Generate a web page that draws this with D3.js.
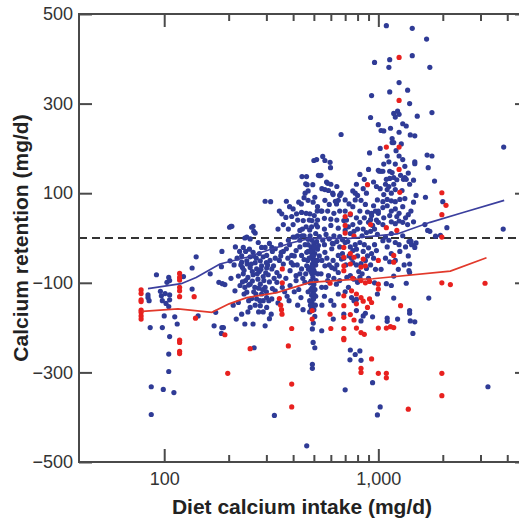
<!DOCTYPE html>
<html>
<head>
<meta charset="utf-8">
<script src="https://cdn.jsdelivr.net/npm/d3@7"></script>
<style>
  html, body { margin: 0; padding: 0; background: #fff; }
  svg { display: block; }
</style>
</head>
<body>
<svg id="chart" width="519" height="520"></svg>
<script>
// Diet calcium intake (mg/d) vs calcium retention (mg/d)
const xTickMajor = [100, 1000];
const xTickMajorLabels = ["100", "1,000"];
const xTickMinor = [200, 300, 400, 500, 600, 700, 800, 900, 2000, 3000, 4000];
const yTickValues = [500, 300, 100, -100, -300, -500];
const yTickLabels = ["500", "300", "100", "\u2212100", "\u2212300", "\u2212500"];

// Blue group: [intake, retention]
const bluePoints = [
  [84,-127],[84,-133],[85,-140],[86,-200],[87,-332],[87,-394],[92,-82],[96,-119],[97,-129],[98,-140],[98,-200],[99,-338],[100,-174],[101,-124],[102,-146],[103,-99],[105,-88],[105,-153],[106,-95],[106,-127],[106,-138],[106,-220],[105,-259],[105,-298],[111,-345],[112,-176],[115,-192],[123,-86],
  [135,-67],[135,-114],[141,-42],[144,-174],[164,-80],[171,-196],[174,-166],[180,-99],[185,-64],[186,-30],[186,-200],[187,-102],[192,-104],[185,-213],
  [202,24],[205,26],[207,26],[238,0],[243,2],[256,24],[260,26],[262,15],[266,11],[252,-2],[296,82],[314,81],
  [203,-51],[219,-45],[230,-54],[243,-51],[252,-42],[260,-32],[269,-45],[281,-51],[290,-42],[301,-39],[296,-21],[234,-21],[285,-21],[318,-21],
  [252,-66],[270,-69],[285,-62],[301,-67],[234,-80],[246,-88],[260,-82],[274,-92],[290,-86],[306,-82],
  [226,-106],[238,-110],[252,-103],[265,-110],[281,-103],[296,-110],[214,-118],[243,-121],[285,-125],[301,-133],[270,-136],[222,-144],[252,-155],[281,-151],[301,-155],
  [217,-181],[238,-192],[260,-192],[296,-196],[189,-200],[263,-245],[215,-20],[225,-30],[250,-25],[275,-10],[310,-12],[320,-30],[330,-45],[255,-58],[278,-75],[240,-95],[262,-120],[290,-140],[310,-98],[232,-66],[248,-140],[276,-165],[316,-170],[205,-90],[210,-150],[320,-113],
  [228,-60],[236,-72],[244,-58],[258,-75],[266,-55],[272,-80],[283,-70],[292,-95],[298,-78],[304,-60],[312,-50],[222,-85],[232,-98],[248,-105],[258,-96],[268,-125],[276,-112],[288,-115],[300,-120],[308,-140],[236,-125],[256,-135],[280,-140],[246,-165],[266,-150],[290,-165],[310,-180],[230,-40],[240,-30],[262,-40],[278,-35],[300,-55],[324,-62],[326,-90],[230,-170],[212,-60],
  [345,60],[354,54],[370,46],[394,48],[372,82],[438,57],[446,39],[479,54],[440,137],[462,137],[458,121],[465,119],[437,76],[450,90],[470,84],[415,54],[442,20],[430,17],[460,25],[420,5],[400,2],[380,-5],[350,-15],[360,-30],[410,2],[430,-5],[450,5],[470,-3],
  [340,20],[360,30],[380,20],[400,30],[420,40],[440,5],[460,55],[400,65],[425,80],[455,100],[470,105],[385,70],
  [330,-24],[352,-32],[372,-24],[394,-39],[413,-28],[438,-39],[463,-32],[318,-69],[336,-77],[360,-58],[387,-73],[413,-84],[438,-69],[463,-62],[336,-99],[387,-106],[413,-95],[454,-99],[435,-133],[383,-140],[330,-118],[318,-136],[345,-50],[370,-90],[400,-60],[425,-115],[450,-48],[340,-145],[365,-120],[420,-150],[470,-120],[445,-160],[327,-396],[463,-464],
  [345,-85],[356,-110],[378,-45],[392,-55],[405,-40],[418,-60],[430,-80],[444,-90],[458,-80],[468,-50],[405,-120],[375,-130],[350,-40],[385,-15],[430,-20],[455,-15],[470,-30],
  [500,173],[515,175],[494,119],[496,80],[505,91],[490,39],[480,5],[490,-5],[500,-12],[485,-20],[495,-28],[505,-35],[488,-42],[498,-50],[492,-58],[486,-65],[500,-72],[490,-80],[495,-88],[485,-96],[500,-104],[490,-112],[494,-120],[488,-128],[498,-136],[490,-144],[494,-152],[487,-158],[492,-203],[496,-233],[505,-245],[492,-282],[492,-291],[510,10],[478,18],[515,-8],[470,-15],[520,-25],[475,-45],[510,-60],[480,-100],[512,-95],[478,-140],[510,-130],[500,-20],[490,-35],[505,-78],[495,-110],
  [482,-30],[498,-40],[508,-50],[484,-75],[496,-65],[506,-115],[484,-115],[500,-125],[508,-150],[482,-150],[500,-160],[488,25],[502,50],[512,30],[476,40],[518,60],[520,-50],[472,-70],[522,-80],[478,-165],[505,-175],[497,-190],
  [533,139],[525,140],[540,140],[573,125],[563,108],[580,122],[612,100],[615,97],[585,106],[662,96],[670,100],[650,84],[563,84],[638,76],[545,60],[550,182],[563,173],[595,169],[598,157],[670,231],[520,40],[560,44],[600,42],[640,40],[690,39],[520,25],[560,20],[600,28],[650,22],[700,17],[530,3],[550,-5],[570,8],[590,-2],[620,5],[640,-8],[660,3],[680,-4],[700,-10],[560,-15],[610,-12],[660,95],[700,85],[730,76],
  [525,-17],[563,-32],[606,-24],[650,-39],[563,-62],[627,-69],[673,-47],[585,-84],[713,-88],[616,-13],[680,-35],[606,-66],[650,-77],[637,-103],[725,-110],[544,-110],[568,-110],[544,-207],[616,-181],[690,-170],[737,-272],[700,-339],[545,-150],[600,-140],[650,-125],
  [530,-40],[545,-50],[575,-45],[590,-60],[615,-50],[640,-60],[660,-20],[690,-45],[705,-60],[540,-80],[580,-95],[620,-90],[660,-95],[700,-120],[560,-130],[620,-150],[540,60],[580,60],[620,55],[660,60],[700,60],[590,75],[630,82],[545,110],[600,120],[640,115],[520,70],[710,40],
  [740,52],[760,70],[780,85],[800,95],[780,100],[830,84],[820,142],[860,131],[900,153],[920,269],[930,318],[960,392],[910,190],[950,125],[1000,151],[740,10],[760,30],[790,45],[820,60],[850,20],[870,75],[900,35],[930,55],[950,72],[980,40],[1000,60],[840,5],[880,12],[960,20],[990,8],[1000,253],[1030,240],
  [720,-8],[740,-20],[760,-28],[780,-15],[800,-40],[820,-10],[850,-30],[870,-50],[900,-22],[930,-35],[960,-15],[980,-28],[750,-45],[790,-60],[830,-57],[880,-68],[740,-84],[770,-92],[800,-99],[820,-88],[750,-133],[770,-140],[790,-137],[870,-168],[830,-185],[940,-176],[990,-125],[940,-323],[1020,-377],[990,-395],[740,-250],[780,-260],[830,-273],[820,-252],[790,-162],[850,-174],
  [730,-40],[760,-55],[790,-25],[810,-75],[840,-80],[860,-15],[890,-40],[920,-60],[950,-45],[970,-70],[725,25],[770,15],[800,20],[820,35],[860,45],[890,58],[920,15],[940,28],[970,60],[990,85],[760,105],[880,100],[850,110],[980,115],[790,120],[900,-90],[960,-100],
  [1090,474],[1440,468],[1130,398],[1120,381],[1440,407],[1250,347],[1370,330],[1130,326],[1400,300],[1200,270],[1230,283],[1250,276],[1180,278],[1060,239],[1250,236],[1480,228],[1160,222],[1160,213],[1180,213],[1100,183],[1250,183],[1480,170],[1010,149],[1030,149],[1050,149],[1130,149],[1160,146],[1090,131],[1130,133],[1180,135],[1310,131],[1330,135],[1350,131],[1460,129],[1060,97],[1100,108],[1150,100],[1200,108],[1290,106],[1050,81],[1100,86],[1150,83],[1200,81],[1260,86],[1330,88],[930,50],[1000,55],[1050,68],[1100,72],[1150,60],[1200,65],[1250,55],[1300,70],[1380,52],[920,41],[1000,35],[1050,30],[1150,36],[1200,32],[1250,38],[1300,35],[1370,30],[1460,36],
  [1020,110],[1080,120],[1120,115],[1180,120],[1220,130],[1270,140],[1380,145],[1400,120],[1060,165],[1120,170],[1200,165],[1300,175],[1330,160],[1210,195],[1280,210],[1350,250],[1410,230],[1020,200],[1140,245],[1300,255],[1060,45],[1130,50],[1220,48],[1340,45],[1420,60],[1460,80],[1500,95],
  [1050,-6],[1100,-20],[1150,-35],[1200,-50],[1250,-15],[1080,-45],[1130,-53],[1260,-30],[1390,-8],[1430,-15],[1480,-21],[1400,-58],[1400,-77],[1390,-73],[1090,-102],[1150,-106],[1350,-101],[1180,-134],[1100,-179],[1100,-186],[1230,-181],[1400,-162],[1400,-168],[1410,-185],[1480,-187],[1450,-213],[1420,-7],[1500,-11],[1150,10],[1300,5],[1080,2],
  [1120,-5],[1200,-10],[1340,-20],[1380,-40],[1240,-70],[1320,-60],[1180,-85],[1030,-70],
  [1520,272],[1480,166],[1690,185],[1780,183],[1710,157],[1830,127],[1660,91],[1740,381],[1780,280],[1680,444],[2000,81],[1650,30],[1700,17],[1740,15],[1850,4],[1950,6],[2090,23],[1720,-134],[3850,203],[3830,20],[3250,-332]
];

// Red group: [intake, retention]
const redPoints = [
  [78,-116],[78,-124],[78,-138],[78,-142],[78,-161],[78,-166],[78,-174],[78,-181],
  [118,-79],[118,-88],[118,-94],[118,-110],[118,-118],[118,-131],[118,-228],[118,-233],[118,-253],[118,-258],
  [138,-131],[140,-179],[192,-216],[198,-302],
  [252,-247],[356,-69],[356,-100],[345,-135],[350,-150],[353,-160],[355,-170],[394,-202],[380,-241],[394,-326],[394,-377],
  [491,-162],[491,-181],[595,-170],[600,-202],[595,-101],
  [690,-73],[690,-129],[690,-151],[690,-177],[690,-202],[690,-224],[690,-227],
  [700,48],[700,28],[700,11],[690,-21],[690,-43],[690,-62],[740,54],
  [770,-43],[850,-47],[870,-62],[740,-35],[740,-58],[830,-65],[1000,-50],[1180,-39],[1180,-54],[770,4],
  [760,-90],[830,-95],[870,-100],[910,-97],[1000,-103],[1000,-114],
  [750,-118],[790,-125],[830,-133],[850,-141],[910,-136],[930,-144],[1270,-151],[790,-147],[890,-155],
  [740,-171],[770,-183],[790,-201],[860,-215],[830,-211],[1000,-201],[1090,-201],[1140,-198],[1180,-200],
  [930,-270],[830,-291],[830,-300],[1000,-302],[1090,-302],[1090,-312],[1380,-382],[1980,-302],[1980,-352],
  [890,119],[1250,403],[1250,307],[1090,203],[1250,203],[1250,153],[1260,102],[920,30],[1090,23],[1220,17],
  [1980,101],[2070,73],[1980,52],[1980,2],[1980,-100],[2170,-104],[3150,-101]
];

// Smoothed trend for each group
const blueTrend = [
  [84,-113],[120,-102],[141,-88],[182,-58],[243,-43],[302,-28],[399,-10],[480,-1],[738,-1],[1225,9],[1746,35],[2488,57],[3870,84]
];
const redTrend = [
  [79,-164],[116,-158],[167,-166],[201,-147],[243,-133],[336,-122],[480,-99],[737,-93],[943,-91],[2170,-74],[3200,-44]
];

const svg = d3.select("#chart");
const plotLeft = 79, plotRight = 528, plotTop = 14, plotBottom = 462;

const x = d3.scaleLog().domain([40, 5000]).range([plotLeft, plotRight]);
const y = d3.scaleLinear().domain([-500, 500]).range([plotBottom, plotTop]);

const axisColor = "#4a4a4a";
const labelFont = "'Liberation Sans', Arial, Helvetica, sans-serif";

// zero reference line
svg.append("line")
  .attr("x1", plotLeft).attr("x2", plotRight)
  .attr("y1", y(0)).attr("y2", y(0))
  .attr("stroke", "#333").attr("stroke-width", 2)
  .attr("stroke-dasharray", "8,5");

// points
svg.append("g").selectAll("circle")
  .data(bluePoints).join("circle")
  .attr("cx", d => x(d[0])).attr("cy", d => y(d[1]))
  .attr("r", 2.6).attr("fill", "#2f3b96");

svg.append("g").selectAll("circle")
  .data(redPoints).join("circle")
  .attr("cx", d => x(d[0])).attr("cy", d => y(d[1]))
  .attr("r", 2.6).attr("fill", "#e8211f");

// trend lines
const line = d3.line().x(d => x(d[0])).y(d => y(d[1]));
svg.append("path").datum(blueTrend)
  .attr("d", line).attr("fill", "none")
  .attr("stroke", "#3b3f9e").attr("stroke-width", 1.7);
svg.append("path").datum(redTrend)
  .attr("d", line).attr("fill", "none")
  .attr("stroke", "#e2392b").attr("stroke-width", 1.7);

// frame
svg.append("rect")
  .attr("x", plotLeft).attr("y", plotTop)
  .attr("width", plotRight - plotLeft).attr("height", plotBottom - plotTop)
  .attr("fill", "none").attr("stroke", axisColor).attr("stroke-width", 2);

function styleAxis(g) {
  g.select(".domain").remove();
  g.selectAll(".tick line").attr("stroke", axisColor).attr("stroke-width", 2);
  g.selectAll(".tick text")
    .attr("fill", "#333")
    .style("font-family", labelFont)
    .style("font-size", "18px");
}

// bottom axis: major with labels, minor without
svg.append("g").attr("transform", `translate(0,${plotBottom})`)
  .call(d3.axisBottom(x).tickValues(xTickMajor)
    .tickFormat((d, i) => xTickMajorLabels[i])
    .tickSizeInner(-13).tickSizeOuter(0).tickPadding(10))
  .call(styleAxis);
svg.append("g").attr("transform", `translate(0,${plotBottom})`)
  .call(d3.axisBottom(x).tickValues(xTickMinor).tickFormat("")
    .tickSizeInner(-7).tickSizeOuter(0))
  .call(styleAxis);

// top axis mirrors the bottom ticks
svg.append("g").attr("transform", `translate(0,${plotTop})`)
  .call(d3.axisTop(x).tickValues(xTickMajor).tickFormat("")
    .tickSizeInner(-13).tickSizeOuter(0))
  .call(styleAxis);
svg.append("g").attr("transform", `translate(0,${plotTop})`)
  .call(d3.axisTop(x).tickValues(xTickMinor).tickFormat("")
    .tickSizeInner(-7).tickSizeOuter(0))
  .call(styleAxis);

// left axis
svg.append("g").attr("transform", `translate(${plotLeft},0)`)
  .call(d3.axisLeft(y).tickValues(yTickValues)
    .tickFormat((d, i) => yTickLabels[i])
    .tickSizeInner(-13).tickSizeOuter(0).tickPadding(6))
  .call(styleAxis);

// right axis
svg.append("g").attr("transform", `translate(${plotRight},0)`)
  .call(d3.axisRight(y).tickValues(yTickValues).tickFormat("")
    .tickSizeInner(-13).tickSizeOuter(0))
  .call(styleAxis);

// axis titles
svg.append("text")
  .attr("x", (plotLeft + 525) / 2).attr("y", 514)
  .attr("text-anchor", "middle")
  .attr("fill", "#222")
  .style("font-family", labelFont).style("font-size", "21px").style("font-weight", "bold")
  .text("Diet calcium intake (mg/d)");

svg.append("text")
  .attr("transform", `translate(28,${(plotTop + plotBottom) / 2}) rotate(-90)`)
  .attr("text-anchor", "middle")
  .attr("fill", "#222")
  .style("font-family", labelFont).style("font-size", "21px").style("font-weight", "bold")
  .text("Calcium retention (mg/d)");
</script>
</body>
</html>
